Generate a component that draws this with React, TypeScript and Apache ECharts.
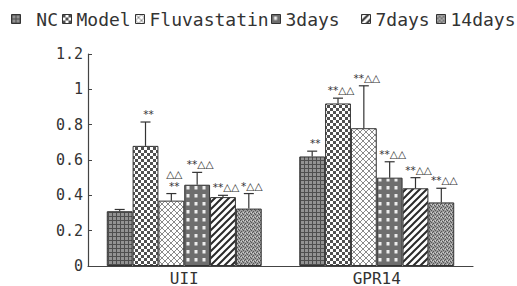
import React, { useEffect, useRef } from "react";
import * as echarts from "echarts";

const categories = ["UII", "GPR14"];
const seriesNames = ["NC", "Model", "Fluvastatin", "3days", "7days", "14days"];

const ncValues = [0.31, 0.62];
const modelValues = [0.68, 0.92];
const fluvastatinValues = [0.37, 0.78];
const days3Values = [0.46, 0.5];
const days7Values = [0.39, 0.44];
const days14Values = [0.325, 0.36];

const ncErrors = [0.01, 0.03];
const modelErrors = [0.135, 0.03];
const fluvastatinErrors = [0.04, 0.24];
const days3Errors = [0.07, 0.09];
const days7Errors = [0.01, 0.06];
const days14Errors = [0.085, 0.08];

const ncMarks = ["", "**"];
const modelMarks = ["**", "**△△"];
const fluvastatinMarks = ["△△\n**", "**△△"];
const days3Marks = ["**△△", "**△△"];
const days7Marks = ["**△△", "**△△"];
const days14Marks = ["*△△", "**△△"];

const yTicks = { min: 0, max: 1.2, interval: 0.2 };

const allValues = [ncValues, modelValues, fluvastatinValues, days3Values, days7Values, days14Values];
const allErrors = [ncErrors, modelErrors, fluvastatinErrors, days3Errors, days7Errors, days14Errors];
const allMarks = [ncMarks, modelMarks, fluvastatinMarks, days3Marks, days7Marks, days14Marks];

const CAT_GAP = 0.195;

function tile(w: number, h: number, body: string) {
  const svg = `<svg xmlns="http://www.w3.org/2000/svg" width="${w}" height="${h}">${body}</svg>`;
  return {
    image: "data:image/svg+xml;charset=utf-8," + encodeURIComponent(svg),
    repeat: "repeat",
    imageWidth: w,
    imageHeight: h,
  };
}

const patterns = [
  tile(4, 4, `<rect width="4" height="4" fill="#929292"/><path d="M0 0.5H4M0.5 0V4" stroke="#4e4e4e" stroke-width="1"/>`),
  tile(6, 6, `<rect width="6" height="6" fill="#ffffff"/><rect x="0" y="0" width="3" height="3" fill="#505050"/><rect x="3" y="3" width="3" height="3" fill="#505050"/>`),
  tile(6, 6, `<rect width="6" height="6" fill="#ffffff"/><path d="M0 0L6 6M6 0L0 6" stroke="#8a8a8a" stroke-width="1"/>`),
  tile(8, 8, `<rect width="8" height="8" fill="#6e6e6e"/><rect x="2.5" y="2" width="3" height="3.5" fill="#eeeeee"/>`),
  tile(7, 7, `<rect width="7" height="7" fill="#ffffff"/><path d="M0 7L7 0M-3.5 3.5L3.5 -3.5M3.5 10.5L10.5 3.5" stroke="#2a2a2a" stroke-width="2"/>`),
  tile(4, 4, `<rect width="4" height="4" fill="#9c9c9c"/><rect x="0" y="0" width="1" height="1" fill="#555"/><rect x="2" y="1" width="1" height="1" fill="#555"/><rect x="1" y="3" width="1" height="1" fill="#555"/><rect x="3" y="2" width="1" height="1" fill="#555"/><rect x="1" y="1" width="1" height="1" fill="#d0d0d0"/><rect x="3" y="0" width="1" height="1" fill="#d0d0d0"/>`),
];

const legendTextLeft = [25, 76, 149, 285, 375, 450];

export default function App() {
  const ref = useRef<HTMLDivElement>(null);

  useEffect(() => {
    if (!ref.current) return;
    const chart = echarts.init(ref.current, undefined, { renderer: "svg" });

    const errData: any[] = [];
    allValues.forEach((vals, si) => {
      vals.forEach((v, ci) => {
        errData.push([ci, si, v, allErrors[si][ci], allMarks[si][ci]]);
      });
    });

    const textStyleBase = { fontFamily: "DejaVu Sans Mono", color: "#333" };

    const option: any = {
      animation: false,
      backgroundColor: "#ffffff",
      legend: seriesNames.map((name, i) => ({
        data: [name],
        left: legendTextLeft[i] - 5 - 9,
        top: 9,
        padding: 0,
        icon: "rect",
        itemWidth: 9,
        itemHeight: 9,
        itemGap: 0,
        selectedMode: false,
        itemStyle: { borderColor: "#333", borderWidth: 1 },
        formatter: i === 0 ? " {name}" : "{name}",
        textStyle: { ...textStyleBase, fontSize: 18, lineHeight: 20 },
      })),
      grid: { left: 88, right: 44, top: 54, bottom: 16 },
      xAxis: {
        type: "category",
        data: categories,
        axisLine: { lineStyle: { color: "#444", width: 1.2 } },
        axisTick: { inside: true, length: 4, alignWithLabel: false, lineStyle: { color: "#444" } },
        axisLabel: { ...textStyleBase, fontSize: 16, margin: 4 },
      },
      yAxis: {
        type: "value",
        min: yTicks.min,
        max: yTicks.max,
        interval: yTicks.interval,
        splitLine: { show: false },
        axisLine: { show: true, lineStyle: { color: "#444", width: 1.2 } },
        axisTick: { show: true, inside: true, length: 4, lineStyle: { color: "#444" } },
        axisLabel: { ...textStyleBase, fontSize: 15, margin: 5 },
      },
      series: [
        ...seriesNames.map((name, si) => ({
          name,
          type: "bar",
          data: allValues[si],
          barGap: "0%",
          barCategoryGap: CAT_GAP * 100 + "%",
          itemStyle: { color: patterns[si], borderColor: "#333", borderWidth: 1 },
        })),
        {
          type: "custom",
          name: "errors",
          data: errData,
          z: 5,
          encode: { x: 0, y: 2 },
          renderItem: (params: any, api: any) => {
            const ci = api.value(0);
            const si = api.value(1);
            const v = api.value(2);
            const e = api.value(3);
            const mark = errData[params.dataIndex][4];
            const base = api.coord([ci, 0]);
            const catW = api.size([1, 0])[0];
            const barW = (catW * (1 - CAT_GAP)) / 6;
            const x = base[0] + (si - 2.5) * barW;
            const yTop = api.coord([ci, v])[1];
            const yCap = api.coord([ci, v + e])[1];
            const lineStyle = { stroke: "#333", lineWidth: 1.2 };
            return {
              type: "group",
              children: [
                { type: "line", shape: { x1: x, y1: yTop, x2: x, y2: yCap }, style: lineStyle },
                { type: "line", shape: { x1: x - 5, y1: yCap, x2: x + 5, y2: yCap }, style: lineStyle },
                {
                  type: "text",
                  x: x + 3,
                  y: yCap - 2,
                  style: {
                    text: mark,
                    fill: "#333",
                    fontSize: 10.5,
                    lineHeight: 12,
                    fontFamily: "DejaVu Sans",
                    align: "center",
                    verticalAlign: "bottom",
                  },
                },
              ],
            };
          },
        },
      ],
    };

    chart.setOption(option);
    return () => chart.dispose();
  }, []);

  return <div ref={ref} style={{ width: 517, height: 286, position: "absolute", left: 0, top: 0 }} />;
}
